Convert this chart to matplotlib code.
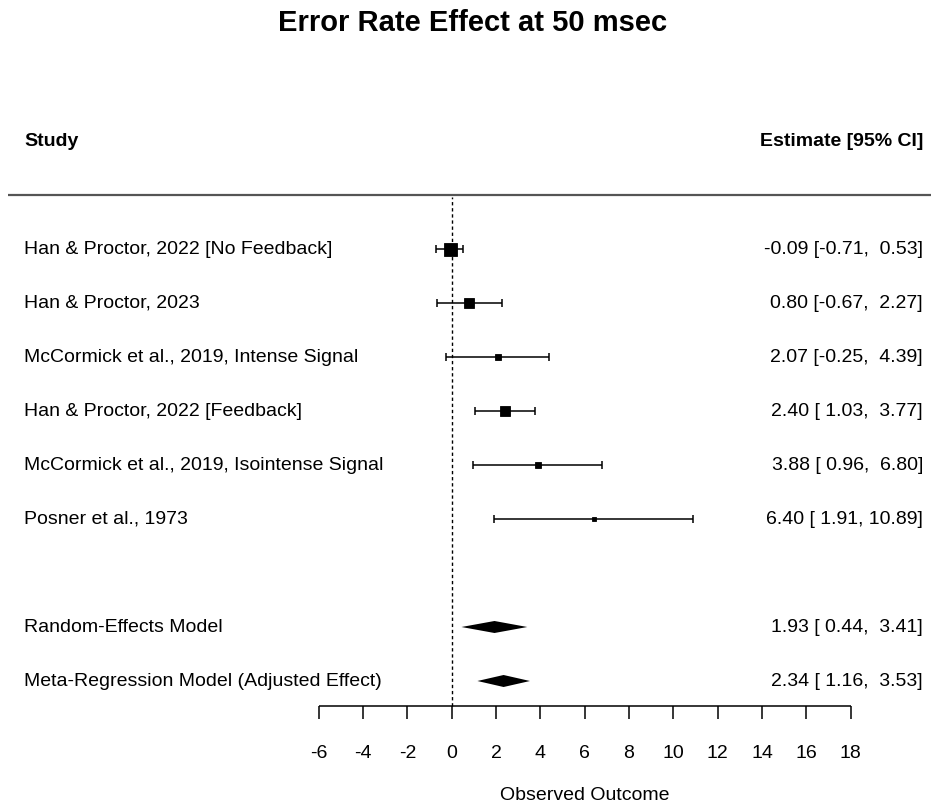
import matplotlib
matplotlib.use("Agg")
import matplotlib.pyplot as plt
import numpy as np

# ---------------- data ----------------
title = "Error Rate Effect at 50 msec"
header_left = "Study"
header_right = "Estimate [95% CI]"
studies = [
    "Han & Proctor, 2022 [No Feedback]",
    "Han & Proctor, 2023",
    "McCormick et al., 2019, Intense Signal",
    "Han & Proctor, 2022 [Feedback]",
    "McCormick et al., 2019, Isointense Signal",
    "Posner et al., 1973",
]
est = [-0.09, 0.80, 2.07, 2.40, 3.88, 6.40]
ci_lb = [-0.71, -0.67, -0.25, 1.03, 0.96, 1.91]
ci_ub = [0.53, 2.27, 4.39, 3.77, 6.80, 10.89]
weights = [24.0, 18.7, 13.3, 18.7, 11.6, 8.0]

summary_labels = ["Random-Effects Model", "Meta-Regression Model (Adjusted Effect)"]
summary_est = [1.93, 2.34]
summary_lb = [0.44, 1.16]
summary_ub = [3.41, 3.53]

xticks = [-6, -4, -2, 0, 2, 4, 6, 8, 10, 12, 14, 16, 18]
xlabel = "Observed Outcome"

# ---------------- layout ----------------
W, H, DPI = 931, 805, 100
FONT = "Liberation Sans"
FS = 14

x0_px, unit_px = 451.7, 22.17   # pixel position of 0 and pixels per unit
y0_px, row_px = 681.0, 54.0     # pixel position of row 0 and pixels per row

def xd(px):
    return (px - x0_px) / unit_px

def yd(px):
    return (y0_px - px) / row_px

fig = plt.figure(figsize=(W / DPI, H / DPI), dpi=DPI)
ax = fig.add_axes([0, 0, 1, 1])
ax.set_xlim(xd(0), xd(W))
ax.set_ylim(yd(H), yd(0))
ax.axis("off")

study_rows = np.arange(len(studies) + 2, 2, -1)   # 8 .. 3
summary_rows = np.arange(len(summary_labels) - 1, -1, -1)  # 1, 0
header_row = study_rows[0] + 2
sep_row = study_rows[0] + 1
axis_y = yd(705.5)

x_left = xd(24)
x_right = xd(923)

# title
ax.text(xd(473), yd(23), title, ha="center", va="center",
        fontsize=21, fontweight="bold", family=FONT)

# headers
ax.text(x_left, header_row, header_left, ha="left", va="center",
        fontsize=FS, fontweight="bold", family=FONT)
ax.text(x_right, header_row, header_right, ha="right", va="center",
        fontsize=FS, fontweight="bold", family=FONT)

# separator
ax.hlines(sep_row, xd(8), xd(W), color="#555555", lw=1.6)

# reference line
ax.vlines(0, axis_y, sep_row - 0.03, color="black", lw=1.0,
          linestyles=(0, (2.4, 2.0)))

# studies
w = np.array(weights)
size_px = 4 + 9 * (w - w.min()) / (w.max() - w.min())
cap = 4.0 / row_px
for r, lab, e, lb, ub, s in zip(study_rows, studies, est, ci_lb, ci_ub, size_px):
    ax.hlines(r, lb, ub, color="black", lw=1.1)
    ax.vlines([lb, ub], r - cap, r + cap, color="black", lw=1.1)
    ax.plot([e], [r], marker="s", color="black", markersize=s * 0.72,
            markeredgewidth=0.6, markeredgecolor="black", linestyle="none")
    ax.text(x_left, r, lab, ha="left", va="center", fontsize=FS, family=FONT)
    ax.text(x_right, r, f"{e:.2f} [{lb:>5.2f}, {ub:>5.2f}]",
            ha="right", va="center", fontsize=FS, family=FONT)

# summary diamonds
dh = 6.0 / row_px
for r, lab, e, lb, ub in zip(summary_rows, summary_labels, summary_est, summary_lb, summary_ub):
    ax.fill([lb, e, ub, e], [r, r + dh, r, r - dh], color="black", lw=0)
    ax.text(x_left, r, lab, ha="left", va="center", fontsize=FS, family=FONT)
    ax.text(x_right, r, f"{e:.2f} [{lb:>5.2f}, {ub:>5.2f}]",
            ha="right", va="center", fontsize=FS, family=FONT)

# x axis
tick_len = 13.5 / row_px
ax.hlines(axis_y, xticks[0], xticks[-1], color="black", lw=1.1)
ax.vlines(xticks, axis_y - tick_len, axis_y, color="black", lw=1.1)
for t in xticks:
    ax.text(t, yd(753), f"{t}", ha="center", va="center", fontsize=FS, family=FONT)
ax.text((xticks[0] + xticks[-1]) / 2, yd(795), xlabel, ha="center", va="center",
        fontsize=FS, family=FONT)

fig.savefig("out.png", dpi=DPI, facecolor="white")
